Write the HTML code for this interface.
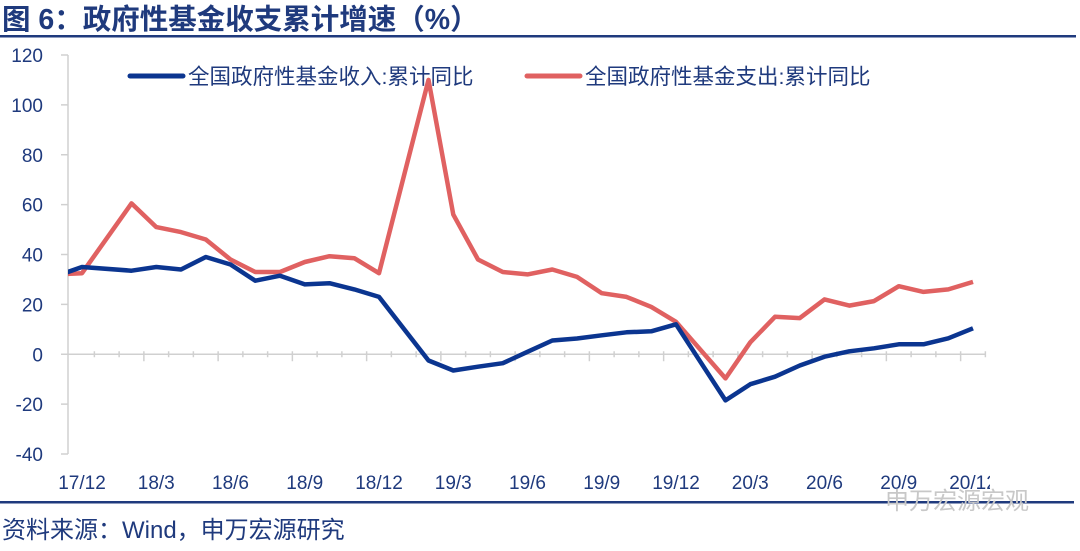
<!DOCTYPE html>
<html><head><meta charset="utf-8"><style>
body{margin:0;background:#fff;width:1080px;height:551px;overflow:hidden;font-family:"Liberation Sans","Noto Sans CJK SC",sans-serif}
svg{display:block}
</style></head><body>
<svg id="chart" width="1080" height="551">
<text x="2" y="29" font-size="28.5" font-weight="bold" fill="#1f3a7d" font-family="Liberation Sans,Noto Sans CJK SC,sans-serif">图 6：政府性基金收支累计增速（%）</text>
<rect x="0" y="35" width="1076" height="2.5" fill="#1f3a7d"/>
<rect x="0" y="501" width="1074" height="2.5" fill="#1f3a7d"/>
<text x="2" y="538" font-size="24" fill="#1f3a7d" font-family="Liberation Sans,Noto Sans CJK SC,sans-serif">资料来源：Wind，申万宏源研究</text>
<g id="axes"></g>
<g id="series"></g>
<g font-family="Liberation Sans,Noto Sans CJK SC,sans-serif" font-size="21.5" fill="#1f3a7d">
<line x1="130" y1="76" x2="183" y2="76" stroke="#0b3590" stroke-width="5" stroke-linecap="round"/>
<text x="188" y="84">全国政府性基金收入:累计同比</text>
<line x1="527" y1="76" x2="580" y2="76" stroke="#e06161" stroke-width="5" stroke-linecap="round"/>
<text x="585" y="84">全国政府性基金支出:累计同比</text>
</g>
<text x="885" y="509" font-size="24" fill="#c8c8c8" font-family="Liberation Sans,Noto Sans CJK SC,sans-serif">申万宏源宏观</text>
</svg>
<script>
const months=["17/11","17/12","18/1","18/2","18/3","18/4","18/5","18/6","18/7","18/8","18/9","18/10","18/11","18/12","19/1","19/2","19/3","19/4","19/5","19/6","19/7","19/8","19/9","19/10","19/11","19/12","20/1","20/2","20/3","20/4","20/5","20/6","20/7","20/8","20/9","20/10","20/11","20/12"];
const income=[31.5,35,null,33.5,35,34,39,36,29.5,31.5,28,28.5,26,23,null,-2.5,-6.5,-5,-3.6,1,5.5,6.3,7.6,8.8,9.2,12,null,-18.5,-12,-9,-4.5,-1,1.2,2.4,4,4,6.4,10.4];
const expense=[32,32.5,null,60.5,51,49,46,38,33,33,37,39.3,38.5,32.5,null,110,56,38,33,32,34,31,24.5,23,19,13,null,-9.7,4.8,15,14.5,22,19.5,21.3,27.3,25,26,29];
const yTicks=[120,100,80,60,40,20,0,-20,-40];
const xLabels=["17/12","18/3","18/6","18/9","18/12","19/3","19/6","19/9","19/12","20/3","20/6","20/9","20/12"];
const NS="http://www.w3.org/2000/svg";
const X0=68,X1=985,Y_TOP=55,Y_BOT=454;
function y(v){return Y_BOT-(v-(-40))/160*(Y_BOT-Y_TOP);}
function x(i){return 82+(i-1)*24.75;}
function mk(tag,attrs,parent){const e=document.createElementNS(NS,tag);for(const k in attrs)e.setAttribute(k,attrs[k]);parent.appendChild(e);return e;}
const axes=document.getElementById('axes');
const ser=document.getElementById('series');
let e=mk('line',{x1:X0,y1:Y_TOP,x2:X0,y2:Y_BOT,stroke:'#d0d0d0','stroke-width':1.5},axes);


yTicks.forEach(v=>{
  let t=mk('line',{x1:X0-7,y1:y(v),x2:X0,y2:y(v),stroke:'#d0d0d0','stroke-width':1.5},axes);
  
  
  let l=mk('text',{x:43,y:y(v)+7,'text-anchor':'end','font-size':19,fill:'#1f3a7d'},axes);
  l.textContent=v;
  
  
});
e=mk('line',{x1:X0,y1:y(0),x2:X1,y2:y(0),stroke:'#d0d0d0','stroke-width':1.5},axes);


for(let i=1;i<months.length;i++){
  const bx=x(i)+12.375;
  const major=(i%3===0);
  let t=mk('line',{x1:bx,y1:y(0)-3,x2:bx,y2:y(0)+(major?7:3),stroke:'#d0d0d0','stroke-width':1.5},axes);
  
  
}
const clipDef=mk('defs',{},axes);
const cp=mk('clipPath',{id:'plotclip'},clipDef);
mk('rect',{x:X0,y:0,width:X1-X0+20,height:551},cp);
const xl=mk('g',{'clip-path':'url(#xlclip)'},axes);
const cp2=mk('clipPath',{id:'xlclip'},clipDef);
mk('rect',{x:0,y:0,width:990,height:551},cp2);
xLabels.forEach(lb=>{
  const i=months.indexOf(lb);
  let l=mk('text',{x:x(i),y:489,'text-anchor':'middle','font-size':19,fill:'#1f3a7d'},xl);
  l.textContent=lb;
  
  
});
function line(vals,color,name){
  const pts=[];vals.forEach((v,i)=>{if(v!==null)pts.push(x(i).toFixed(1)+','+y(v).toFixed(1));});
  let p=mk('polyline',{points:pts.join(' '),fill:'none',stroke:color,'stroke-width':4.5,'stroke-linejoin':'round','clip-path':'url(#plotclip)'},ser);
  
  
}
line(expense,'#e06161','expense-line');
line(income,'#0b3590','income-line');
</script>
</body></html>
